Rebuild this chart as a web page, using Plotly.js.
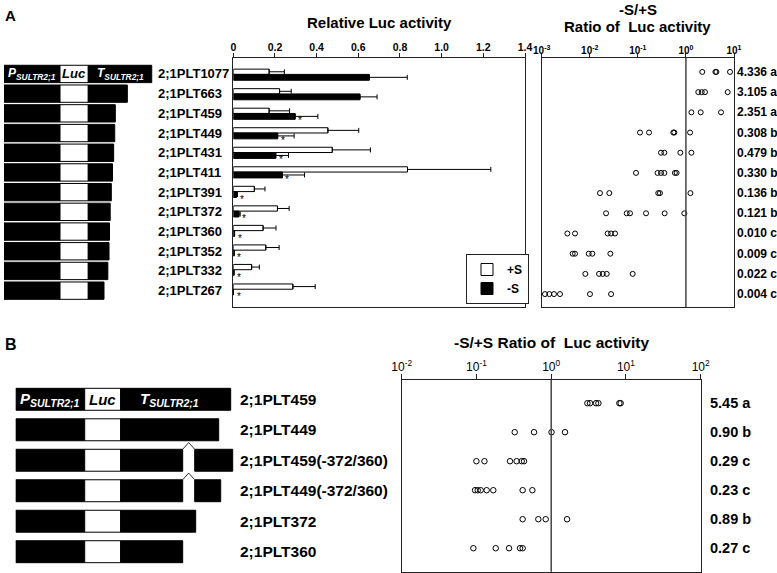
<!DOCTYPE html>
<html>
<head>
<meta charset="utf-8">
<script src="https://cdn.plot.ly/plotly-3.0.1.min.js"></script>
<style>body{margin:0;background:#fff}</style>
</head>
<body>
<div id="plot" style="width:777px;height:573px"></div>
<script>
// ---------- panel A data ----------
var constructsA = ['2;1PLT1077', '2;1PLT663', '2;1PLT459', '2;1PLT449', '2;1PLT431', '2;1PLT411',
                   '2;1PLT391', '2;1PLT372', '2;1PLT360', '2;1PLT352', '2;1PLT332', '2;1PLT267'];
var termBpA = [1077, 663, 459, 449, 431, 411, 391, 372, 360, 352, 332, 267];
var promLenA = 951;   // schematic promoter length (bp-equivalent units)
var lucLenA = 480;    // schematic Luc length

var plusS     = [0.172, 0.222, 0.172, 0.454, 0.475, 0.836, 0.101, 0.212, 0.143, 0.156, 0.088, 0.286];
var plusSerr  = [0.073, 0.056, 0.098, 0.148, 0.183, 0.400, 0.051, 0.056, 0.062, 0.064, 0.037, 0.107];
var minusS    = [0.653, 0.608, 0.297, 0.213, 0.204, 0.236, 0.016, 0.027, 0.006, 0.005, 0.003, 0.001];
var minusSerr = [0.182, 0.082, 0.109, 0.079, 0.061, 0.106, 0.004, 0.006, null, null, null, null];
var signifA   = [false, false, true, true, true, true, true, true, true, true, true, true];

var ratioA = [
  [2.19, 4.1, 4.3, 8.26],
  [1.81, 2.13, 2.49, 7.39],
  [1.30, 2.03, 5.37],
  [0.111, 0.171, 0.547, 0.574, 1.22],
  [0.303, 0.356, 0.765, 1.30],
  [0.0916, 0.257, 0.303, 0.356, 0.59, 0.64],
  [0.0163, 0.0255, 0.266, 0.288, 1.24],
  [0.0218, 0.0586, 0.0687, 0.148, 0.361, 0.927],
  [0.00342, 0.00493, 0.0236, 0.0277, 0.0335],
  [0.00441, 0.00493, 0.00949, 0.0113, 0.0268],
  [0.00809, 0.0156, 0.0186, 0.0225, 0.0781],
  [0.00117, 0.00144, 0.0018, 0.0024, 0.0101, 0.0277]
];
var ratioMeanA = [4.336, 3.105, 2.351, 0.308, 0.479, 0.330, 0.136, 0.121, 0.010, 0.009, 0.022, 0.004];
var groupA = ['a', 'a', 'a', 'b', 'b', 'b', 'b', 'b', 'c', 'c', 'c', 'c'];

// ---------- panel B data ----------
var constructsB = ['2;1PLT459', '2;1PLT449', '2;1PLT459(-372/360)', '2;1PLT449(-372/360)', '2;1PLT372', '2;1PLT360'];
var promLenB = 69;
var lucLenB = 36;
var termLenB = [110, 98, 112, 100, 75, 62];          // schematic 3' region lengths
var deletedB = [false, false, true, true, false, false];
var delStartB = 62, delEndB = 74;                    // schematic position of -360 / -372

var ratioB = [
  [3.05, 3.31, 3.98, 4.28, 8.17, 8.5],
  [0.325, 0.589, 1.01, 1.53],
  [0.0998, 0.128, 0.281, 0.345, 0.403, 0.433],
  [0.0958, 0.104, 0.114, 0.137, 0.168, 0.415, 0.56],
  [0.415, 0.673, 0.844, 1.63],
  [0.091, 0.181, 0.273, 0.383, 0.415]
];
var ratioMeanB = [5.45, 0.90, 0.29, 0.23, 0.89, 0.27];
var groupB = ['a', 'b', 'c', 'c', 'b', 'c'];

// ---------- helpers ----------
var W = 777, H = 573;
function X(p) { return p / W; }
function Y(p) { return 1 - p / H; }
var FONT = 'Arial, "Liberation Sans", sans-serif';
var rowsA = constructsA.map(function (d, i) { return i; });
var rowsB = constructsB.map(function (d, i) { return i; });

function flatten(rows) {
  var x = [], y = [];
  rows.forEach(function (vals, i) { vals.forEach(function (v) { x.push(v); y.push(i); }); });
  return {x: x, y: y};
}
function segment(xa, ya, rows, base, len, color, width) {
  return {
    type: 'bar', orientation: 'h', xaxis: xa, yaxis: ya,
    y: rows, x: len, base: base, width: width,
    marker: {color: color, line: {color: '#000', width: 1}},
    showlegend: false, hoverinfo: 'skip'
  };
}

var traces = [];

// constructs A
traces.push(segment('x3', 'y3', rowsA, rowsA.map(function () { return 0; }), rowsA.map(function () { return promLenA; }), '#000', 0.88));
traces.push(segment('x3', 'y3', rowsA, rowsA.map(function () { return promLenA; }), rowsA.map(function () { return lucLenA; }), '#fff', 0.88));
traces.push(segment('x3', 'y3', rowsA, rowsA.map(function () { return promLenA + lucLenA; }), termBpA, '#000', 0.88));

// constructs B
traces.push(segment('x4', 'y4', rowsB, rowsB.map(function () { return 0; }), rowsB.map(function () { return promLenB; }), '#000', 0.72));
traces.push(segment('x4', 'y4', rowsB, rowsB.map(function () { return promLenB; }), rowsB.map(function () { return lucLenB; }), '#fff', 0.72));
traces.push(segment('x4', 'y4', rowsB, rowsB.map(function () { return promLenB + lucLenB; }),
  termLenB.map(function (t, i) { return deletedB[i] ? delStartB : t; }), '#000', 0.72));
traces.push(segment('x4', 'y4', rowsB, rowsB.map(function () { return promLenB + lucLenB + delEndB; }),
  termLenB.map(function (t, i) { return deletedB[i] ? t - delEndB : null; }), '#000', 0.72));
// deletion carets
var cx = [], cy = [];
rowsB.forEach(function (i) {
  if (!deletedB[i]) return;
  var s = promLenB + lucLenB + delStartB, e = promLenB + lucLenB + delEndB;
  cx.push(s, (s + e) / 2, e, null);
  cy.push(i - 0.36, i - 0.58, i - 0.36, null);
});
traces.push({type: 'scatter', mode: 'lines', xaxis: 'x4', yaxis: 'y4', x: cx, y: cy,
  line: {color: '#333', width: 1}, showlegend: false, hoverinfo: 'skip'});

// bar chart A
traces.push({
  type: 'bar', orientation: 'h', name: '+S', xaxis: 'x', yaxis: 'y',
  y: rowsA, x: plusS, width: 0.27, offset: -0.27,
  marker: {color: '#fff', line: {color: '#000', width: 1}},
  error_x: {type: 'data', array: plusSerr, arrayminus: plusSerr.map(function () { return 0; }),
            symmetric: false, color: '#000', thickness: 1, width: 2.5},
  hoverinfo: 'skip'
});
traces.push({
  type: 'bar', orientation: 'h', name: '-S', xaxis: 'x', yaxis: 'y',
  y: rowsA, x: minusS, width: 0.3, offset: 0,
  marker: {color: '#000', line: {color: '#000', width: 1}},
  error_x: {type: 'data', array: minusSerr, arrayminus: minusSerr.map(function () { return 0; }),
            symmetric: false, color: '#000', thickness: 1, width: 2.5},
  hoverinfo: 'skip'
});

// ratio dots
var dA = flatten(ratioA), dB = flatten(ratioB);
traces.push({type: 'scatter', mode: 'markers', xaxis: 'x2', yaxis: 'y2', x: dA.x, y: dA.y,
  marker: {symbol: 'circle-open', size: 5, color: '#000', line: {width: 1, color: '#000'}},
  showlegend: false, hoverinfo: 'skip', cliponaxis: false});
traces.push({type: 'scatter', mode: 'markers', xaxis: 'x5', yaxis: 'y5', x: dB.x, y: dB.y,
  marker: {symbol: 'circle-open', size: 5.5, color: '#000', line: {width: 1, color: '#000'}},
  showlegend: false, hoverinfo: 'skip', cliponaxis: false});

// ---------- annotations ----------
var ann = [];
function bold(size, color) { return {family: FONT, size: size, color: color || '#000', weight: 'bold'}; }
function txt(o) {
  var a = {showarrow: false, xanchor: 'center', yanchor: 'middle'};
  for (var k in o) a[k] = o[k];
  return a;
}
// significance asterisks next to the -S bars
rowsA.forEach(function (i) {
  if (!signifA[i]) return;
  ann.push(txt({text: '*', xref: 'x', x: minusS[i], xanchor: 'left', xshift: 1, yref: 'y', y: i + 0.38,
    font: {family: FONT, size: 10, color: '#000'}}));
});
constructsA.forEach(function (n, i) {
  ann.push(txt({text: n, xref: 'paper', x: X(156), xanchor: 'left', yref: 'y3', y: i, font: bold(13)}));
});
constructsB.forEach(function (n, i) {
  ann.push(txt({text: n, xref: 'paper', x: X(238), xanchor: 'left', yref: 'y4', y: i, font: bold(15.5)}));
});
ratioMeanA.forEach(function (m, i) {
  ann.push(txt({text: m.toFixed(3) + ' ' + groupA[i], xref: 'x2 domain', x: 1, xanchor: 'left', xshift: 1,
    yref: 'y2', y: i, font: bold(12)}));
});
ratioMeanB.forEach(function (m, i) {
  ann.push(txt({text: m.toFixed(2) + ' ' + groupB[i], xref: 'x5 domain', x: 1, xanchor: 'left', xshift: 7,
    yref: 'y5', y: i, font: bold(14.5)}));
});
// construct part labels
function partFont(c, s) { return {family: FONT, size: s, color: c, weight: 'bold', style: 'italic'}; }
ann.push(txt({text: 'P<sub>SULTR2;1</sub>', xref: 'x3', x: promLenA / 2, yref: 'y3', y: 0, font: partFont('#fff', 12)}));
ann.push(txt({text: 'Luc', xref: 'x3', x: promLenA + lucLenA / 2, yref: 'y3', y: 0, font: partFont('#000', 13)}));
ann.push(txt({text: 'T<sub>SULTR2;1</sub>', xref: 'x3', x: promLenA + lucLenA + termBpA[0] / 2, yref: 'y3', y: 0, font: partFont('#fff', 12)}));
ann.push(txt({text: 'P<sub>SULTR2;1</sub>', xref: 'x4', x: promLenB / 2, yref: 'y4', y: 0, font: partFont('#fff', 15)}));
ann.push(txt({text: 'Luc', xref: 'x4', x: promLenB + lucLenB / 2, yref: 'y4', y: 0, font: partFont('#000', 15)}));
ann.push(txt({text: 'T<sub>SULTR2;1</sub>', xref: 'x4', x: promLenB + lucLenB, xanchor: 'left', xshift: 17, yref: 'y4', y: 0, font: partFont('#fff', 15)}));
// titles & panel letters
ann.push(txt({text: 'Relative Luc activity', xref: 'x domain', x: 0.5, yref: 'paper', y: Y(23), font: bold(15)}));
ann.push(txt({text: '-S/+S', xref: 'x2 domain', x: 0.5, yref: 'paper', y: Y(9.5), font: bold(15)}));
ann.push(txt({text: 'Ratio of&nbsp; Luc activity', xref: 'x2 domain', x: 0.5, yref: 'paper', y: Y(26), font: bold(15)}));
ann.push(txt({text: '-S/+S Ratio of&nbsp; Luc activity', xref: 'x5 domain', x: 0.5, yref: 'paper', y: Y(342), font: bold(15.5)}));
ann.push(txt({text: 'A', xref: 'paper', x: X(3), xanchor: 'left', yref: 'paper', y: Y(16), font: bold(15)}));
ann.push(txt({text: 'B', xref: 'paper', x: X(3), xanchor: 'left', yref: 'paper', y: Y(344), font: bold(16)}));

// ---------- axes ----------
var boxAxis = {showline: true, mirror: true, linecolor: '#222', linewidth: 1, showgrid: false, zeroline: false};
function merge(a, b) { var o = {}; for (var k in a) o[k] = a[k]; for (var k2 in b) o[k2] = b[k2]; return o; }
var hidden = {visible: false, fixedrange: true};

var layout = {
  width: W, height: H, autosize: false,
  margin: {l: 0, r: 0, t: 0, b: 0},
  paper_bgcolor: '#fff', plot_bgcolor: 'rgba(0,0,0,0)',
  barmode: 'overlay', showlegend: true,
  font: {family: FONT, color: '#000'},
  legend: {x: X(466), y: Y(254), xanchor: 'left', yanchor: 'top', bordercolor: '#222', borderwidth: 1,
           bgcolor: '#fff', font: {family: FONT, size: 12, weight: 'bold'}, itemwidth: 30, traceorder: 'normal'},
  xaxis: merge(boxAxis, {domain: [X(233.3), X(525)], anchor: 'y', side: 'top', range: [0, 1.4],
    tickvals: [0, 0.2, 0.4, 0.6, 0.8, 1.0, 1.2, 1.4], ticktext: ['0', '0.2', '0.4', '0.6', '0.8', '1.0', '1.2', '1.4'],
    ticks: 'outside', ticklen: 4, tickcolor: '#222', ticklabelstandoff: -2,
    tickfont: {family: FONT, size: 10.5, weight: 'bold'}}),
  yaxis: merge(boxAxis, {domain: [Y(307), Y(58)], anchor: 'x', range: [11.91, -0.84], showticklabels: false, ticks: ''}),
  xaxis2: merge(boxAxis, {domain: [X(541.7), X(734)], anchor: 'y2', side: 'top', type: 'log', range: [-3, 1],
    tickvals: [0.001, 0.01, 0.1, 1, 10], ticktext: ['10<sup>-3</sup>', '10<sup>-2</sup>', '10<sup>-1</sup>', '10<sup>0</sup>', '10<sup>1</sup>'],
    ticks: 'outside', ticklen: 4, tickcolor: '#222', ticklabelstandoff: -5,
    tickfont: {family: FONT, size: 10, weight: 'bold'}}),
  yaxis2: merge(boxAxis, {domain: [Y(307), Y(58)], anchor: 'x2', range: [11.64, -0.69], showticklabels: false, ticks: ''}),
  xaxis3: merge(hidden, {domain: [X(4), X(4 + 2600 * 0.0589)], anchor: 'y3', range: [0, 2600]}),
  yaxis3: merge(hidden, {domain: [Y(307), Y(57)], anchor: 'x3', range: [11.83, -0.86]}),
  xaxis4: merge(hidden, {domain: [X(15.7), X(255.7)], anchor: 'y4', range: [0, 240]}),
  yaxis4: merge(hidden, {domain: [Y(571.7), Y(380)], anchor: 'x4', range: [5.656, -0.633]}),
  xaxis5: merge(boxAxis, {domain: [X(401.7), X(700.7)], anchor: 'y5', side: 'top', type: 'log', range: [-2, 2],
    tickvals: [0.01, 0.1, 1, 10, 100], ticktext: ['10<sup>-2</sup>', '10<sup>-1</sup>', '10<sup>0</sup>', '10<sup>1</sup>', '10<sup>2</sup>'],
    ticks: 'outside', ticklen: 5, tickcolor: '#222', ticklabelstandoff: -2,
    tickfont: {family: FONT, size: 12}}),
  yaxis5: merge(boxAxis, {domain: [Y(571.7), Y(380)], anchor: 'x5', range: [5.81, -0.8], showticklabels: false, ticks: ''}),
  shapes: [
    {type: 'line', xref: 'x2', x0: 1, x1: 1, yref: 'y2 domain', y0: 0, y1: 1, line: {color: '#444', width: 1.5}},
    {type: 'line', xref: 'x5', x0: 1, x1: 1, yref: 'y5 domain', y0: 0, y1: 1, line: {color: '#444', width: 1.5}}
  ],
  annotations: ann
};

Plotly.newPlot('plot', traces, layout, {staticPlot: true, displayModeBar: false});
</script>
</body>
</html>
